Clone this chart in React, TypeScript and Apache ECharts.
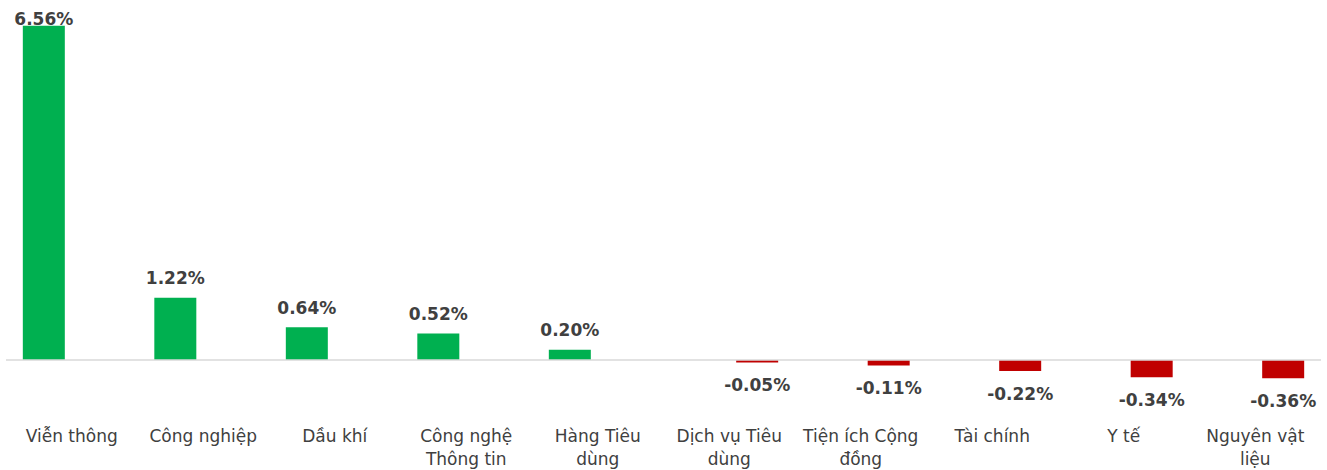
import React, { useEffect, useRef } from "react";
import * as echarts from "echarts";

const categories = [
  "Viễn thông",
  "Công nghiệp",
  "Dầu khí",
  "Công nghệ\nThông tin",
  "Hàng Tiêu\ndùng",
  "Dịch vụ Tiêu\ndùng",
  "Tiện ích Cộng\nđồng",
  "Tài chính",
  "Y tế",
  "Nguyên vật\nliệu",
];
const gainValues = [6.56, 1.22, 0.64, 0.52, 0.2, null, null, null, null, null];
const lossValues = [null, null, null, null, null, -0.05, -0.11, -0.22, -0.34, -0.36];

const FONT = "'DejaVu Sans', sans-serif";
const TEXT = "#404040";

export default function App() {
  const ref = useRef<HTMLDivElement>(null);
  useEffect(() => {
    document.body.style.margin = "0";
    const chart = echarts.init(ref.current!, null, { renderer: "svg" });
    const fmt = (p: any) => (p.value == null ? "" : p.value.toFixed(2) + "%");
    const gainData = gainValues.map((v, i) =>
      i === 0 ? { value: v, label: { distance: -2 } } : v
    );
    chart.setOption({
      animation: false,
      textStyle: { fontFamily: FONT },
      grid: { left: 6, right: 6, top: 13.5, bottom: 47 },
      xAxis: {
        type: "category",
        data: categories,
        axisLine: { show: false, onZero: false },
        axisTick: { show: false },
        axisLabel: {
          interval: 0,
          margin: 3,
          color: TEXT,
          fontSize: 17,
          lineHeight: 23,
          fontFamily: FONT,
        },
      },
      yAxis: {
        type: "value",
        min: -1.2,
        max: 6.8,
        show: false,
        splitLine: { show: false },
      },
      series: [
        {
          type: "bar",
          data: gainData,
          barWidth: 42,
          barGap: "33%",
          itemStyle: { color: "#00B050" },
          label: {
            show: true,
            position: "top",
            distance: 11,
            formatter: fmt,
            color: TEXT,
            fontWeight: "bold",
            fontSize: 17,
            fontFamily: FONT,
          },
          markLine: {
            silent: true,
            symbol: "none",
            label: { show: false },
            lineStyle: { color: "#d9d9d9", width: 1.5, type: "solid" },
            data: [{ yAxis: 0 }],
          },
        },
        {
          type: "bar",
          data: lossValues,
          barWidth: 42,
          barGap: "33%",
          itemStyle: { color: "#C00000" },
          label: {
            show: true,
            position: "bottom",
            distance: 14,
            formatter: fmt,
            color: TEXT,
            fontWeight: "bold",
            fontSize: 17,
            fontFamily: FONT,
          },
        },
      ],
    });
    return () => chart.dispose();
  }, []);
  return <div ref={ref} style={{ width: 1327, height: 470 }} />;
}
